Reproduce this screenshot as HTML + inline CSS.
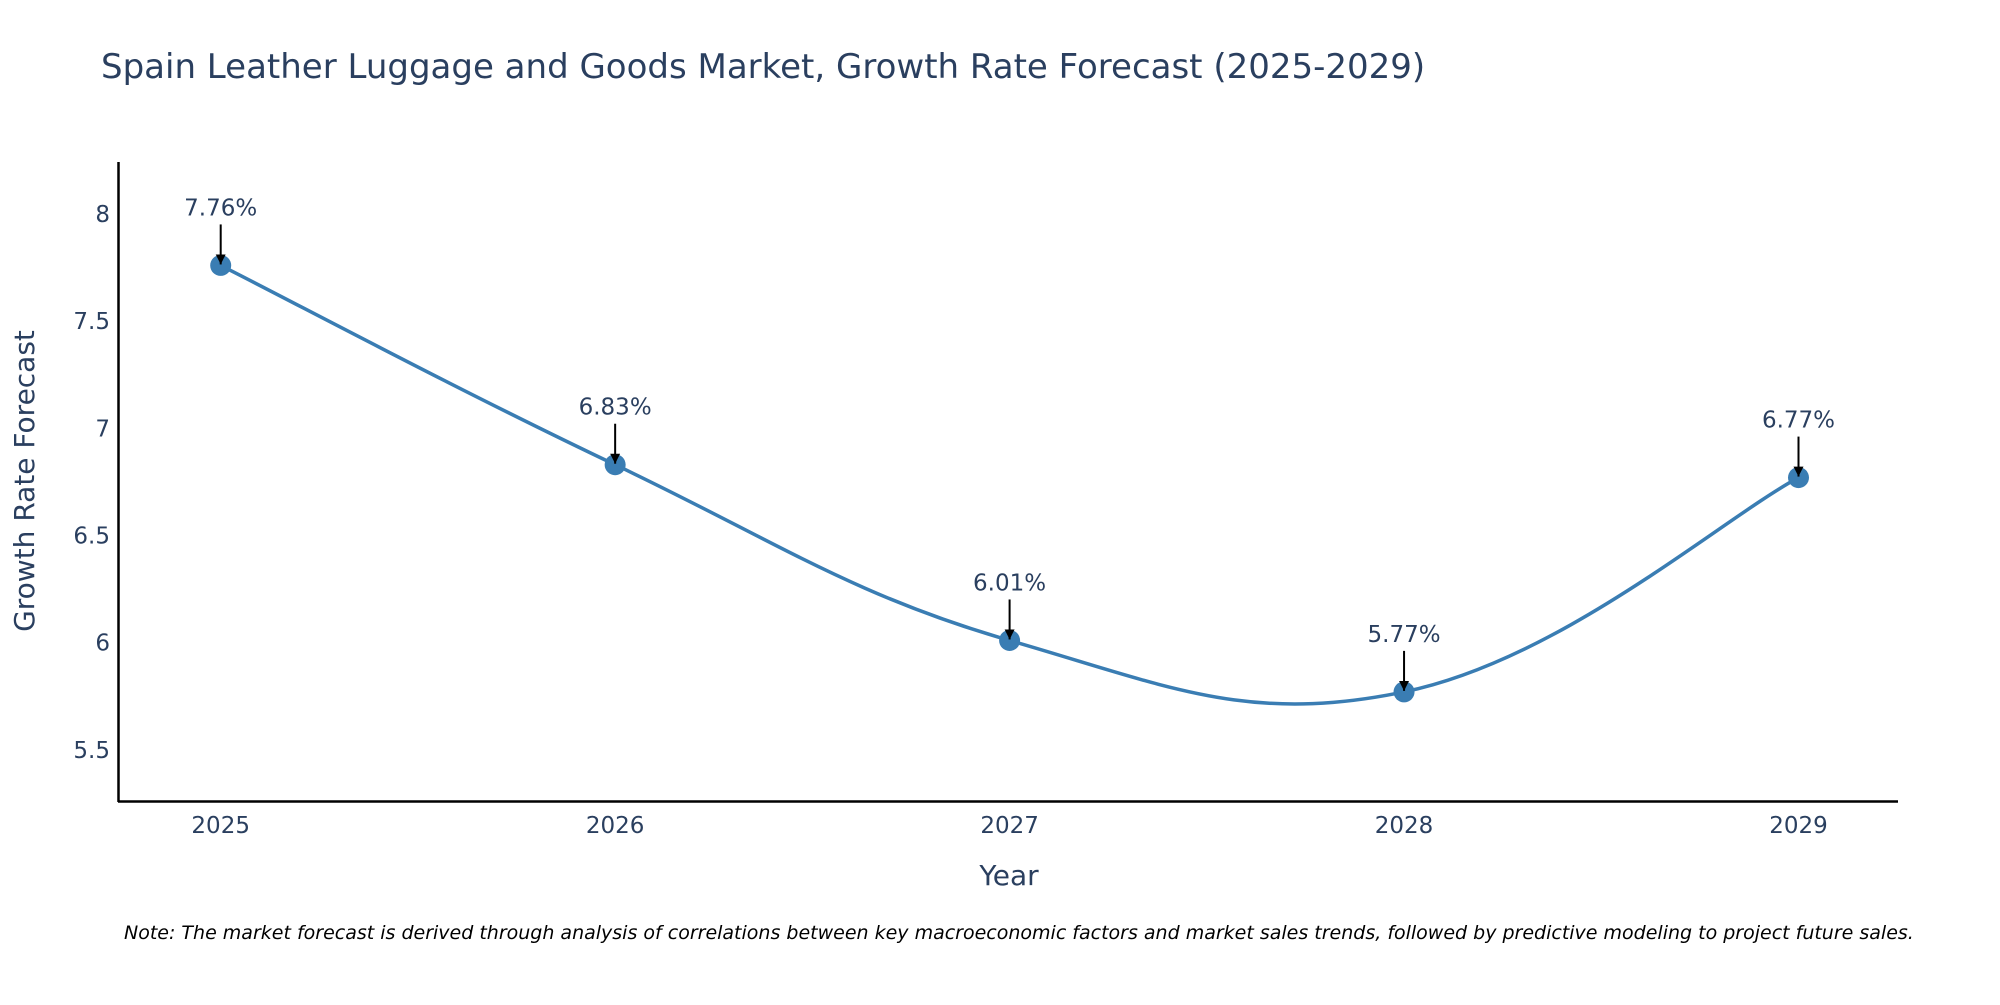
<!DOCTYPE html>
<html><head><meta charset="utf-8"><style>
body{margin:0;background:#fff;}
svg{font-family:"DejaVu Sans","Liberation Sans",sans-serif;}
</style></head><body>
<svg id="chart" width="2000" height="1000" viewBox="0 0 2000 1000" xmlns="http://www.w3.org/2000/svg">
<rect width="2000" height="1000" fill="#fff"/>
<text x="101" y="78" font-size="34" fill="#2a3f5f">Spain Leather Luggage and Goods Market, Growth Rate Forecast (2025-2029)</text>
<g id="yticks"></g>
<g id="xticks"></g>
<line x1="118.5" y1="162" x2="118.5" y2="802" stroke="#000" stroke-width="2.5"/>
<line x1="118" y1="801.5" x2="1898" y2="801.5" stroke="#000" stroke-width="2.5"/>
<path id="series-line" d="" fill="none" stroke="#3a7db3" stroke-width="3.5"/>
<g id="points"></g>
<g id="annots"></g>
<text transform="translate(34,481) rotate(-90)" text-anchor="middle" font-size="28" fill="#2a3f5f">Growth Rate Forecast</text>
<text x="1009" y="885" text-anchor="middle" font-size="28" fill="#2a3f5f">Year</text>
<text x="124" y="939" font-size="19" font-style="italic" fill="#000">Note: The market forecast is derived through analysis of correlations between key macroeconomic factors and market sales trends, followed by predictive modeling to project future sales.</text>
<defs><marker id="ah" viewBox="0 0 10 10" refX="10" refY="5" markerWidth="5" markerHeight="5" orient="auto"><path d="M0,0L10,5L0,10z" fill="#000"/></marker></defs>
</svg>
<script>
const years = [2025, 2026, 2027, 2028, 2029];
const values = [7.76, 6.83, 6.01, 5.77, 6.77];
const labels = ["7.76%", "6.83%", "6.01%", "5.77%", "6.77%"];
const yTicks = [5.5, 6, 6.5, 7, 7.5, 8];
const yTickLabels = ["5.5", "6", "6.5", "7", "7.5", "8"];

const NS = "http://www.w3.org/2000/svg";
function xs(v){ return 220.7 + (v - 2025) * 394.45; }
function ys(v){ return 214 + (8 - v) * 214.3; }
function mk(tag, attrs, parent){ const e = document.createElementNS(NS, tag); for (const k in attrs) e.setAttribute(k, attrs[k]); parent.appendChild(e); return e; }

const yg = document.getElementById('yticks');
yTicks.forEach((t, i) => {
  const tx = mk('text', {x: 110, y: ys(t) + 8, 'text-anchor': 'end', 'font-size': 23, fill: '#2a3f5f'}, yg);
  
  
  tx.textContent = yTickLabels[i];
});
const xg = document.getElementById('xticks');
years.forEach(y => {
  const tx = mk('text', {x: xs(y), y: 833, 'text-anchor': 'middle', 'font-size': 23, fill: '#2a3f5f'}, xg);
  
  
  tx.textContent = String(y);
});

const pts = years.map((y, i) => [xs(y), ys(values[i])]);
let d = 'M' + pts[0][0] + ',' + pts[0][1];
const s = 1/5;
for (let i = 0; i < pts.length - 1; i++) {
  const p0 = pts[Math.max(0, i - 1)], p1 = pts[i], p2 = pts[i + 1], p3 = pts[Math.min(pts.length - 1, i + 2)];
  const c1 = [p1[0] + (p2[0] - p0[0]) * s, p1[1] + (p2[1] - p0[1]) * s];
  const c2 = [p2[0] - (p3[0] - p1[0]) * s, p2[1] - (p3[1] - p1[1]) * s];
  d += ' C' + c1.join(',') + ' ' + c2.join(',') + ' ' + p2.join(',');
}
document.getElementById('series-line').setAttribute('d', d);

const pg = document.getElementById('points');
const ag = document.getElementById('annots');
pts.forEach((p, i) => {
  const c = mk('circle', {cx: p[0], cy: p[1], r: 10.5, fill: '#3a7db3'}, pg);
  
  
  const l = mk('line', {x1: p[0], y1: p[1] - 41, x2: p[0], y2: p[1] - 1, stroke: '#000', 'stroke-width': 2, 'marker-end': 'url(#ah)'}, ag);
  
  
  const t = mk('text', {x: p[0], y: p[1] - 50, 'text-anchor': 'middle', 'font-size': 23, fill: '#2a3f5f'}, ag);
  
  
  t.textContent = labels[i];
});
</script>
</body></html>
